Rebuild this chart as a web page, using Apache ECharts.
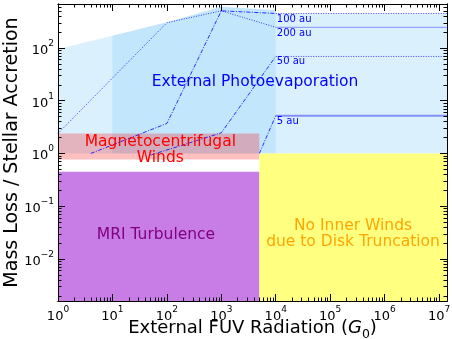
<!DOCTYPE html>
<html lang="en">
<head>
<meta charset="UTF-8">
<title>Mass loss vs external FUV</title>
<script src="https://cdn.jsdelivr.net/npm/echarts@6/dist/echarts.min.js"></script>
<style>
    html, body { margin: 0; padding: 0; background: #fff; }
    #chart { width: 452px; height: 339px; }
</style>
</head>
<body>
<div id="chart"></div>
<script>
// axis extent (data units)
var xStart = 1, xEnd = 1.4e7;
var yBottom = 1.6e-3, yTop = 680;

// regions
var photoG0 = [1, 10, 100, 1000, 10000, 10000, 1.4e7];
var photoTop = [95, 170, 305, 600, 520, 450, 450];
var photoInnerG0 = [10, 100, 1000, 10000];
var photoInnerTop = [170, 305, 600, 520];
var photoBase = 1;
var mcwG0 = [1, 5000];
var mcwRange = [0.77, 2.4];
var mriG0 = [1, 5000];
var mriTop = 0.45;
var truncG0 = [5000, 1.4e7];
var truncTop = 1;

// curves for disk radii (last two points = plateau beyond G0 = 1e4)
var au200G0 = [1, 100, 1000, 10000, 1.4e7];
var au200 = [2.4, 300, 505, 246, 246];
var au100G0 = [4, 100, 1000, 10000, 1.4e7];
var au100 = [1.0, 3.7, 505, 450, 450];
var au50G0 = [50, 1000, 10000, 1.4e7];
var au50 = [0.93, 2.46, 69, 69];
var au5G0 = [5000, 10000, 1.4e7];
var au5 = [1.0, 5.2, 5.2];

var xTickExp = [0, 1, 2, 3, 4, 5, 6, 7];
var yTickExp = [-2, -1, 0, 1, 2];

var lg = Math.log10;
var FONT = 'DejaVu Sans';

function minorTicks(lo, hi) {
    var out = [];
    for (var n = Math.floor(lo) - 1; n <= Math.ceil(hi); n++) {
        for (var k = 2; k <= 9; k++) {
            var v = lg(k) + n;
            if (v >= lo && v <= hi) out.push(v);
        }
    }
    return out;
}

function polygon(xs, ys, color) {
    return {
        type: 'custom',
        silent: true,
        z: 1,
        data: [[0, 0]],
        renderItem: function (params, api) {
            var pts = xs.map(function (x, i) {
                return api.coord([lg(x), lg(ys[i])]);
            });
            return { type: 'polygon', shape: { points: pts }, style: { fill: color } };
        }
    };
}

function curve(xs, ys, style) {
    return {
        type: 'line',
        silent: true,
        z: 2,
        showSymbol: false,
        symbol: 'none',
        data: xs.map(function (x, i) { return [lg(x), lg(ys[i])]; }),
        lineStyle: style
    };
}

// rising part and plateau drawn with their own styles
function track(xs, ys, riseStyle, flatStyle) {
    var n = xs.length;
    return [
        curve(xs.slice(0, n - 1), ys.slice(0, n - 1), riseStyle),
        curve(xs.slice(n - 2), ys.slice(n - 2), flatStyle)
    ];
}

function textMark(x, y, text, color, size, align) {
    return {
        type: 'scatter',
        silent: true,
        z: 3,
        symbolSize: 1,
        itemStyle: { color: 'rgba(0,0,0,0)', opacity: 1 },
        data: [[x, y]],
        label: {
            show: true,
            position: 'inside',
            align: align || 'center',
            verticalAlign: 'middle',
            formatter: text,
            color: color,
            opacity: 1,
            textBorderWidth: 0,
            fontSize: size,
            lineHeight: Math.round(size),
            fontFamily: FONT
        }
    };
}

var supRich = {
    b: { fontSize: 13, lineHeight: 18, verticalAlign: 'bottom', fontFamily: FONT, color: '#000' },
    s: { fontSize: 9, lineHeight: 11, verticalAlign: 'top', fontFamily: FONT, color: '#000' }
};
function powLabel(v) {
    var e = Math.round(v);
    return '{b|10}{s|' + (e < 0 ? '\u2212' + (-e) : e) + '}';
}

var xLo = lg(xStart), xHi = lg(xEnd), yLo = lg(yBottom), yHi = lg(yTop);

function axis(dim, pos, ticks, len, withLabels, extra) {
    var a = {
        type: 'value',
        position: pos,
        z: 10,
        min: dim === 'x' ? xLo : yLo,
        max: dim === 'x' ? xHi : yHi,
        splitLine: { show: false },
        axisLine: { show: true, onZero: false, lineStyle: { color: '#000', width: 1 } },
        axisTick: { show: true, inside: true, length: len, customValues: ticks, lineStyle: { color: '#000', width: 1 } },
        axisLabel: withLabels ? {
            show: true, customValues: ticks, formatter: powLabel, rich: supRich, margin: 4
        } : { show: false }
    };
    for (var k in extra) a[k] = extra[k];
    return a;
}

var xMajor = xTickExp.slice();
var yMajor = yTickExp.slice();
var xMinor = minorTicks(xLo, xHi);
var yMinor = minorTicks(yLo, yHi);

var chart = echarts.init(document.getElementById('chart'));

var light = 'rgba(135,206,250,0.3)';
var dotted = { color: 'rgba(0,0,255,0.75)', width: 1, type: [1, 1.5] };
var dashdot = { color: 'rgba(0,0,255,0.8)', width: 1, type: [4, 1.5, 1, 1.5] };

var option = {
    animation: false,
    grid: { left: 58, right: 5, top: 4, bottom: 38, containLabel: false, outerBoundsMode: 'none' },
    xAxis: [
        axis('x', 'bottom', xMajor, 7, true, {
            name: '{n|External FUV Radiation (}{i|G}{sub|0}{n|)}',
            nameLocation: 'middle',
            nameGap: 18,
            nameMoveOverlap: false,
            nameTextStyle: {
                rich: {
                    n: { fontSize: 18, fontFamily: FONT, color: '#000', lineHeight: 22, verticalAlign: 'top' },
                    i: { fontSize: 18, fontFamily: FONT, fontStyle: 'italic', color: '#000', lineHeight: 22, verticalAlign: 'top' },
                    sub: { fontSize: 12.5, fontFamily: FONT, color: '#000', lineHeight: 22, verticalAlign: 'bottom' }
                }
            }
        }),
        axis('x', 'bottom', xMinor, 3.5, false),
        axis('x', 'top', xMajor, 7, false),
        axis('x', 'top', xMinor, 3.5, false)
    ],
    yAxis: [
        axis('y', 'left', yMajor, 7, true, {
            name: 'Mass Loss / Stellar Accretion',
            nameLocation: 'middle',
            nameGap: 36,
            nameMoveOverlap: false,
            nameTextStyle: { fontSize: 19, fontFamily: FONT, color: '#000' }
        }),
        axis('y', 'left', yMinor, 3.5, false),
        axis('y', 'right', yMajor, 7, false),
        axis('y', 'right', yMinor, 3.5, false)
    ],
    series: [
        polygon(photoG0.concat([xEnd, xStart]), photoTop.concat([photoBase, photoBase]), light),
        polygon(photoInnerG0.concat([10000, 10]), photoInnerTop.concat([photoBase, photoBase]), light),
        polygon([mcwG0[0], mcwG0[1], mcwG0[1], mcwG0[0]], [mcwRange[0], mcwRange[0], mcwRange[1], mcwRange[1]], 'rgba(255,0,0,0.25)'),
        polygon([mriG0[0], mriG0[1], mriG0[1], mriG0[0]], [yBottom, yBottom, mriTop, mriTop], '#c87de6'),
        polygon([truncG0[0], truncG0[1], truncG0[1], truncG0[0]], [yBottom, yBottom, truncTop, truncTop], '#ffff80')
    ].concat(
        track(au200G0, au200, dotted, { color: 'rgba(0,0,255,0.4)', width: 1, type: 'solid' }),
        track(au100G0, au100, dashdot, dotted),
        track(au50G0, au50, dashdot, dotted),
        track(au5G0, au5, dashdot, { color: 'rgba(0,0,255,0.4)', width: 2, type: 'solid' }),
        [
            textMark(3.62, 1.36, 'External Photoevaporation', '#0000ff', 15.5),
            textMark(1.88, 0.07, 'Magnetocentrifugal\nWinds', '#ff0000', 15.5),
            textMark(1.80, -1.54, 'MRI Turbulence', '#800080', 15.5),
            textMark(5.42, -1.52, 'No Inner Winds\ndue to Disk Truncation', '#ffa500', 15.5),
            textMark(4.02, 2.55, '100 au', '#0000ff', 10, 'left'),
            textMark(4.02, 2.28, '200 au', '#0000ff', 10, 'left'),
            textMark(4.02, 1.75, '50 au', '#0000ff', 10, 'left'),
            textMark(4.02, 0.60, '5 au', '#0000ff', 10, 'left')
        ]
    )
};

chart.setOption(option);
</script>
</body>
</html>
